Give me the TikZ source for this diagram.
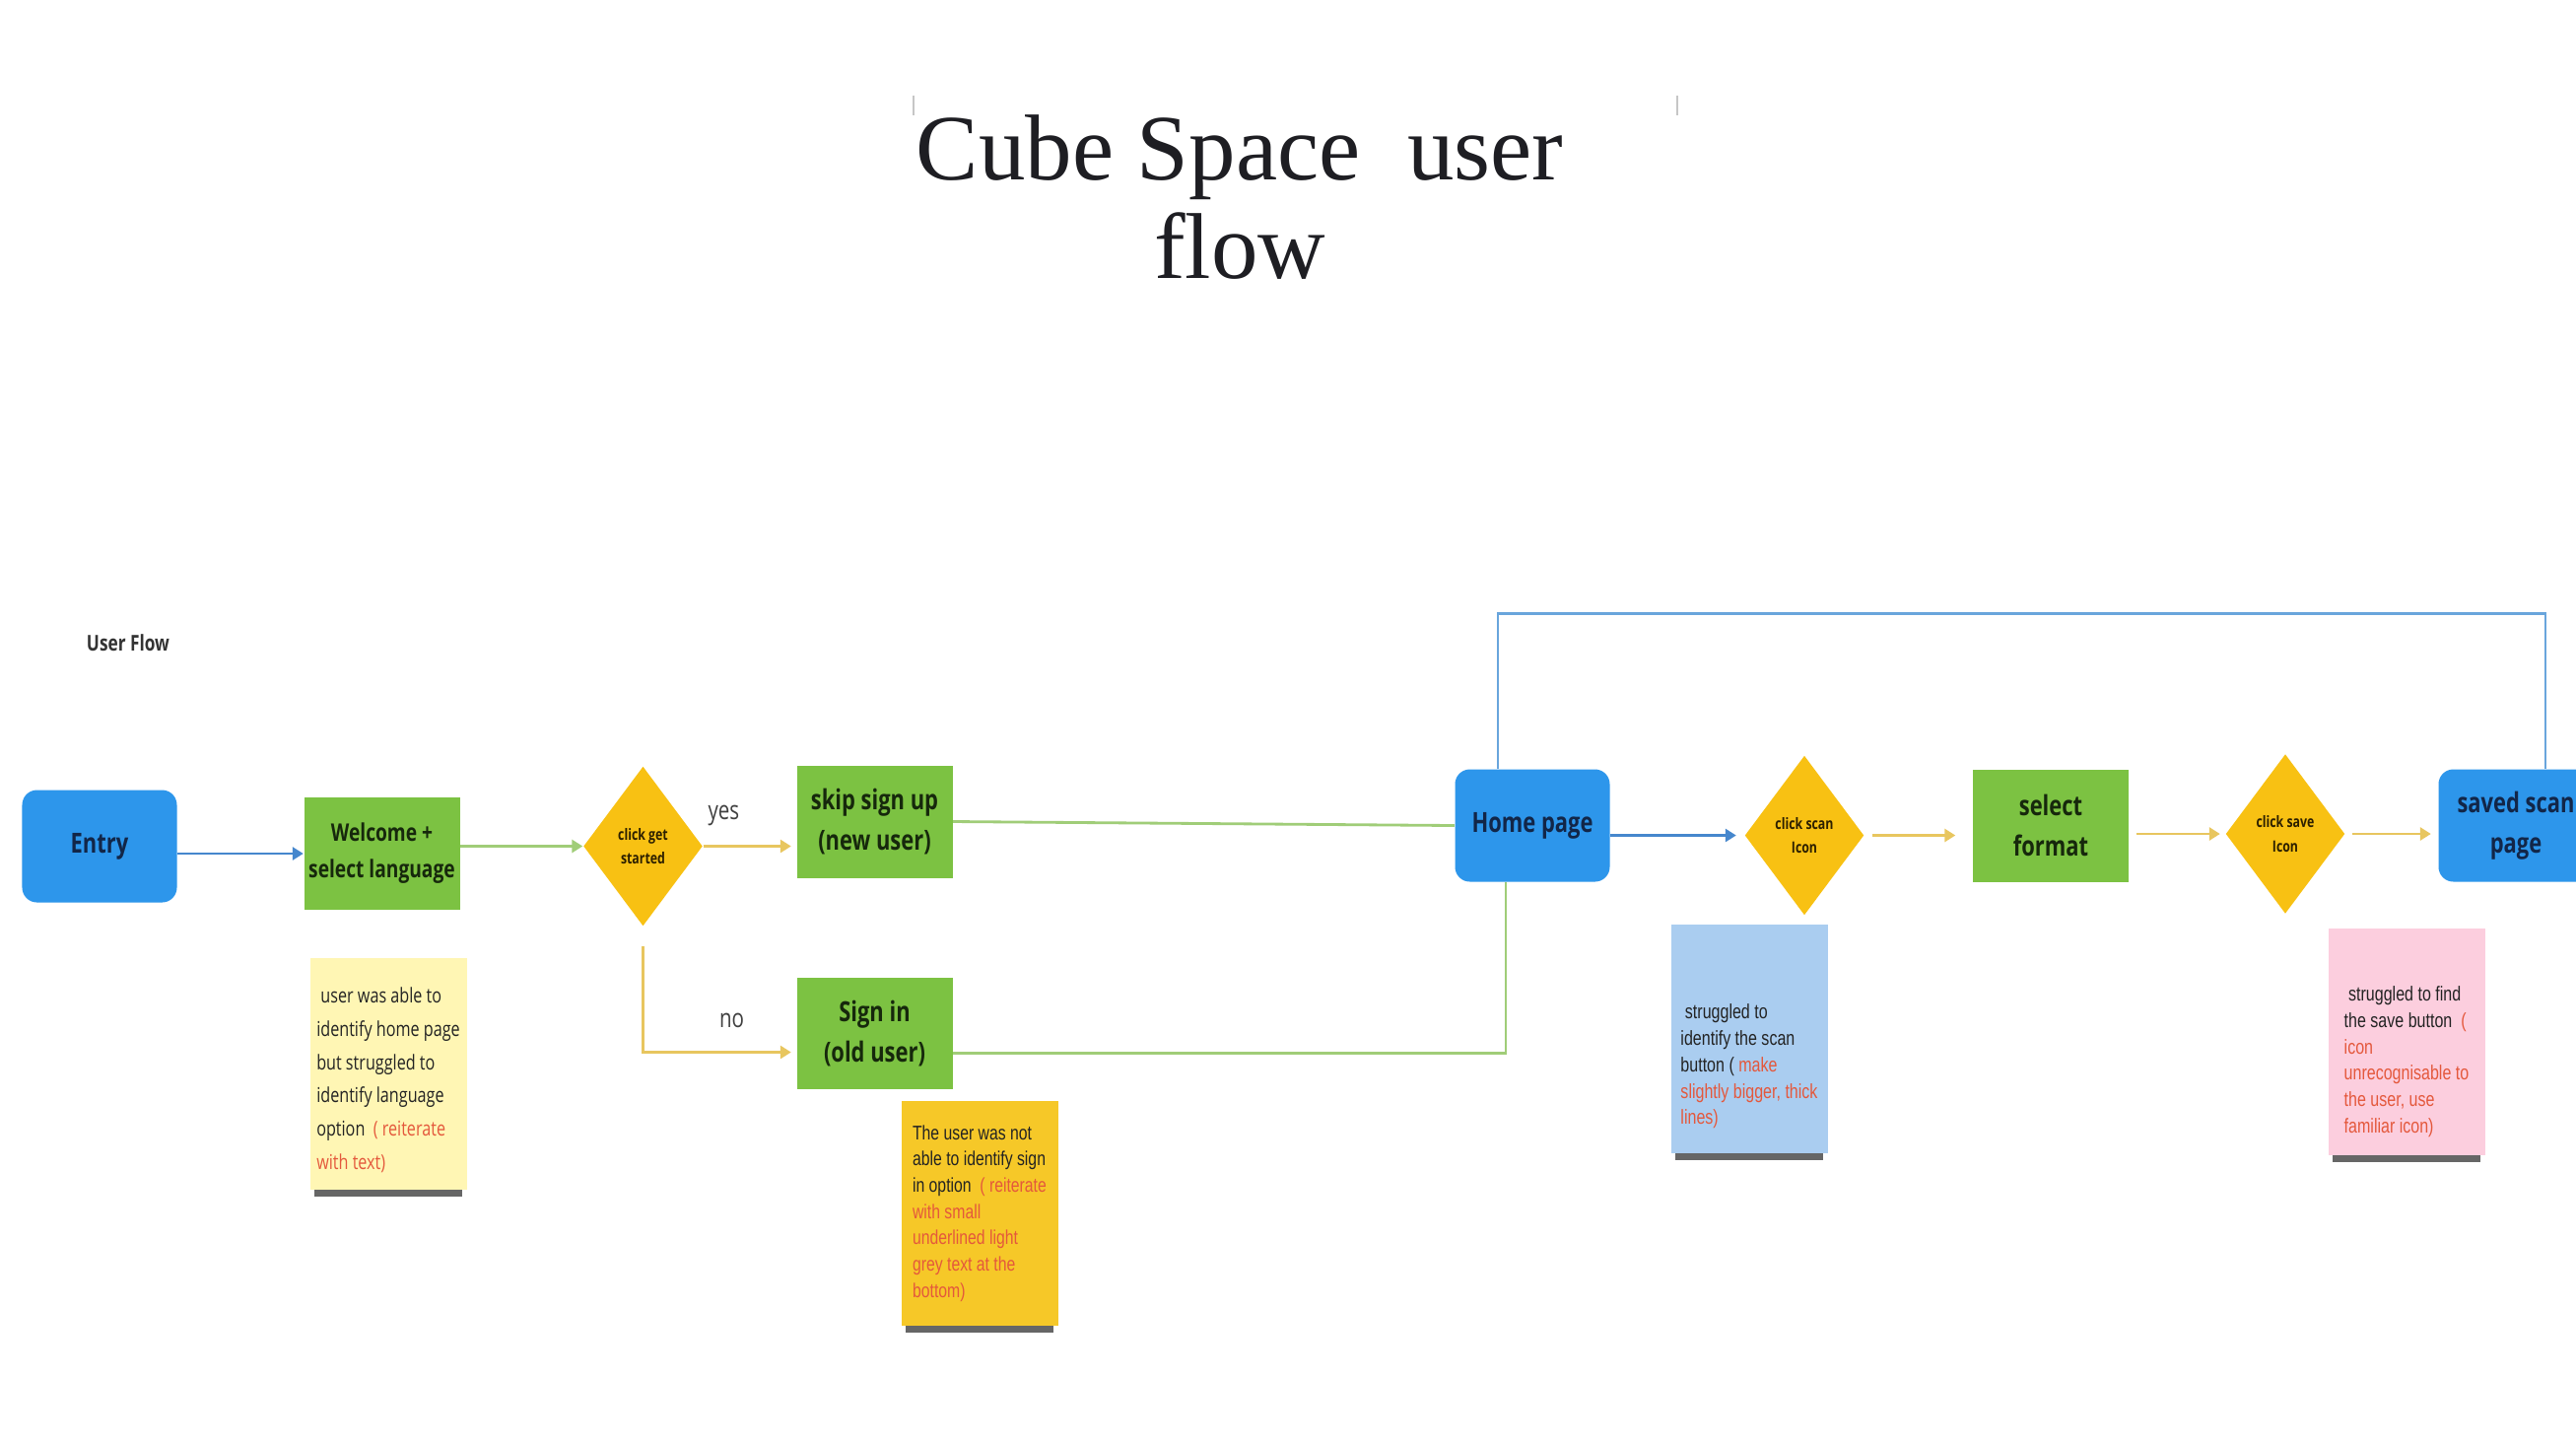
\documentclass[tikz,border=0pt]{standalone}
\usepackage{fontspec}
\setmainfont{Liberation Serif}
\newfontfamily\boxfont[FakeStretch=0.78]{Open Sans}
\newfontfamily\notefont[FakeStretch=0.78]{Liberation Sans}
\usepackage{xcolor}
\usepackage{tikz}
\usetikzlibrary{arrows.meta,shapes.geometric,shadows}

\definecolor{flowblue}{RGB}{45,150,235}
\definecolor{flowgreen}{RGB}{124,194,66}
\definecolor{flowyellow}{RGB}{248,193,19}
\definecolor{bluetext}{RGB}{18,38,72}
\definecolor{greentext}{RGB}{22,40,12}
\definecolor{choicetext}{RGB}{45,32,0}
\definecolor{arrowblue}{RGB}{70,135,205}
\definecolor{loopblue}{RGB}{105,165,220}
\definecolor{linegreen}{RGB}{160,205,120}
\definecolor{arrowyellow}{RGB}{232,198,95}
\definecolor{notecream}{RGB}{255,246,180}
\definecolor{notegold}{RGB}{246,200,40}
\definecolor{noteblue}{RGB}{170,205,240}
\definecolor{notepink}{RGB}{252,206,222}
\definecolor{notetext}{RGB}{35,35,35}
\definecolor{notered}{RGB}{228,88,60}
\definecolor{titlegray}{RGB}{30,30,35}

\newcommand{\rd}[1]{\textcolor{notered}{#1}}

\begin{document}
\begin{tikzpicture}[
  bluebox/.style={rectangle, rounded corners=0.15cm, fill=flowblue, text=bluetext,
    minimum width=1.57cm, minimum height=1.14cm, inner sep=0pt, align=center,
    font=\boxfont\bfseries\fontsize{8}{11.5}\selectfont},
  greenbox/.style={rectangle, fill=flowgreen, text=greentext,
    minimum width=1.58cm, minimum height=1.14cm, inner sep=0pt, align=center,
    font=\boxfont\bfseries\fontsize{8}{11.5}\selectfont},
  choice/.style={diamond, fill=flowyellow, text=choicetext,
    minimum width=1.21cm, minimum height=1.62cm, inner sep=0pt, align=center,
    font=\boxfont\bfseries\fontsize{4.5}{7}\selectfont},
  note/.style={rectangle, inner sep=0pt, minimum width=1.59cm, align=left, text=notetext,
    drop shadow={shadow xshift=0cm, shadow yshift=-0.15cm, shadow scale=0.94,
      fill=black!85, opacity=0.7}},
  bluearrow/.style={draw=arrowblue, line width=0.8pt, -{Triangle[length=1.1mm, width=1.3mm]}},
  greenarrow/.style={draw=linegreen, line width=0.8pt, -{Triangle[length=1.1mm, width=1.3mm]}},
  yellowarrow/.style={draw=arrowyellow, line width=0.8pt, -{Triangle[length=1.1mm, width=1.3mm]}},
  greenline/.style={draw=linegreen, line width=0.8pt},
  loopline/.style={draw=loopblue, line width=0.8pt},
  answer/.style={text=black!75, font=\boxfont\fontsize{7.5}{9}\selectfont}
]

\path[use as bounding box, fill=white] (0,0) rectangle (26.14,-14.65);

% title
\draw[gray!45, line width=0.6pt] (9.27,-0.97) -- (9.27,-1.17);
\draw[gray!45, line width=0.6pt] (17.02,-0.97) -- (17.02,-1.17);
\node[align=center, text=titlegray, font=\fontsize{27}{28.5}\selectfont] (title) at (12.58,-2.0) {Cube Space \ user\\flow};

\node[text=black!80, font=\boxfont\bfseries\fontsize{6.3}{8}\selectfont] (userflow) at (1.30,-6.52) {User Flow};

% main row
\node[bluebox] (entry) at (1.01,-8.585) {Entry};
\node[greenbox, font=\boxfont\bfseries\fontsize{7}{10.5}\selectfont] (welcome) at (3.875,-8.66) {Welcome +\\select language};
\node[choice] (getstarted) at (6.525,-8.585) {click get\\started};
\node[greenbox] (skipsignup) at (8.875,-8.335) {skip sign up\\(new user)};
\node[greenbox, minimum height=1.13cm] (signin) at (8.875,-10.485) {Sign in\\(old user)};
\node[bluebox] (home) at (15.55,-8.375) {Home page};
\node[choice] (scanicon) at (18.31,-8.475) {click scan\\Icon};
\node[greenbox] (format) at (20.81,-8.375) {select\\format};
\node[choice] (saveicon) at (23.19,-8.46) {click save\\Icon};
\node[bluebox] (saved) at (25.53,-8.375) {saved scan\\page};

% sticky notes
\node[note, fill=notecream, minimum height=2.35cm, font=\boxfont\fontsize{5.9}{9.6}\selectfont] (langnote) at (3.94,-10.895)
  {\rule{0pt}{0.28cm}\ user was able to\\identify home page\\but struggled to\\identify language\\option \ \rd{( reiterate}\\\rd{with text)}};
\node[note, fill=notegold, minimum height=2.28cm, font=\notefont\fontsize{5.75}{7.6}\selectfont] (signnote) at (9.94,-12.31)
  {The user was not\\able to identify sign\\in option \ \rd{( reiterate}\\\rd{with small}\\\rd{underlined light}\\\rd{grey text at the}\\\rd{bottom)}};
\node[note, fill=noteblue, minimum height=2.32cm, font=\notefont\fontsize{5.85}{7.6}\selectfont] (scannote) at (17.75,-10.54)
  {\rule{0pt}{0.71cm}\ struggled to\\identify the scan\\button ( \rd{make}\\\rd{slightly bigger, thick}\\\rd{lines)}};
\node[note, fill=notepink, minimum height=2.30cm, font=\notefont\fontsize{5.85}{7.6}\selectfont] (savenote) at (24.42,-10.57)
  {\rule{0pt}{0.55cm}\ struggled to find\\the save button \ \rd{(}\\\rd{icon}\\\rd{unrecognisable to}\\\rd{the user, use}\\\rd{familiar icon)}};

% connectors
\draw[bluearrow] (entry.east |- welcome.west) -- (welcome.west);
\draw[greenarrow] (welcome.east |- getstarted.west) -- (getstarted.west);
\draw[yellowarrow, shorten >=0.05cm] (getstarted.east) -- (getstarted.east -| skipsignup.west)
  node[answer, pos=0.22, above=0.08cm] {yes};
\draw[yellowarrow, shorten <=0.2cm, shorten >=0.05cm] (getstarted.south) |- ([yshift=-0.19cm]signin.west)
  node[answer, pos=0.79, above=0.12cm] {no};
\draw[greenline] (skipsignup.east) -- (home.west);
\draw[greenline] ([yshift=-0.2cm]signin.east) -| ([xshift=-0.27cm]home.south);
\draw[loopline] ([xshift=-0.35cm]home.north) -- ++(0,1.57) -| ([xshift=0.3cm]saved.north);
\draw[bluearrow, shorten >=0.08cm] (home.east |- scanicon.west) -- (scanicon.west);
\draw[yellowarrow, shorten <=0.08cm, shorten >=0.17cm] (scanicon.east) -- (scanicon.east -| format.west);
\draw[yellowarrow, shorten <=0.07cm, shorten >=0.05cm] (format.east |- saveicon.west) -- (saveicon.west);
\draw[yellowarrow, shorten <=0.07cm, shorten >=0.07cm] (saveicon.east) -- (saveicon.east -| saved.west);

\end{tikzpicture}
\end{document}
